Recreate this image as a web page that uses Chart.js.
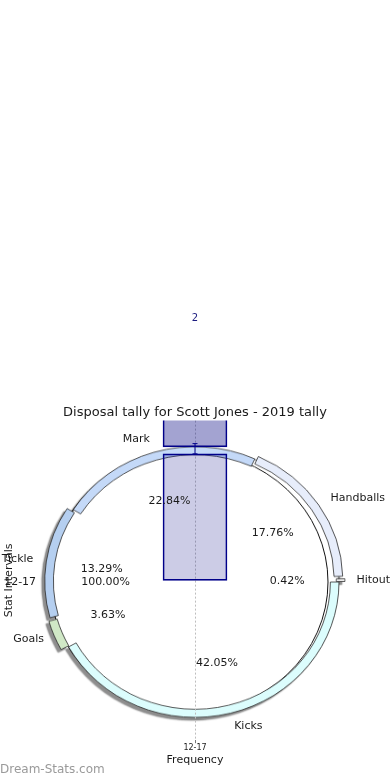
<!DOCTYPE html>
<html lang="en">
<head>
  <meta charset="UTF-8" />
  <title>Disposal tally for Scott Jones</title>
  <script src="https://cdn.jsdelivr.net/npm/chart.js"></script>
  <style>
    body {
      margin: 0;
      width: 390px;
      height: 780px;
      overflow: hidden;
      position: relative;
      background: #fff;
      font-family: 'DejaVu Sans', sans-serif;
    }
    canvas { position: absolute; left: 0; top: 0; }
    .pie { transform-origin: 50% 50%; }
    .watermark {
      position: absolute;
      left: 0;
      top: 762px;
      font-size: 12px;
      line-height: 14px;
      color: #9a9a9a;
    }
  </style>
</head>
<body>
  <canvas id="totalPie" class="pie" width="390" height="390"></canvas>
  <canvas id="pieChart" class="pie" width="390" height="390"></canvas>
  <canvas id="barChart" width="390" height="780"></canvas>
  <div class="watermark">Dream-Stats.com</div>

  <script>
// pie data, in drawing order (clockwise from 3 o'clock)
const pieLabels = ['Kicks', 'Goals', 'Tickle', 'Mark', 'Handballs', 'Hitout'];
const piePercents = [42.05, 3.63, 13.29, 22.84, 17.76, 0.42];
const pieColors = ['#dcfdfd', '#d0e8c6', '#b5cff0', '#c4d9f8', '#e7edfb', '#efefef'];

// the single 100% wedge of the second pie
const totalLabels = ['12-17'];
const totalValues = [100];

// bar part: a low bar and a high bar split by the error interval
const barCategories = ['12-17'];
const lowBarFrom = [0];
const lowBarTo = [0.99];
const highBarFrom = [1.045];
const highBarTo = [2];
const errLow = [0.99];
const errHigh = [1.07];

// both pie canvases are centred on y=582 and squashed a little like the original axes
const PIE_TOP = 387, PIE_SIZE = 390, PIE_SY = 0.94;
document.querySelectorAll('.pie').forEach(c => {
  c.style.top = PIE_TOP + 'px';
  c.style.transform = 'scaleY(' + PIE_SY + ')';
});

Chart.defaults.font.family = "'DejaVu Sans', sans-serif";
Chart.defaults.color = '#1a1a1a';

// shadow under the ring, drawn as its own pass so it stays below every wedge
const ringShadow = {
  id: 'ringShadow',
  beforeDatasetsDraw(chart) {
    const meta = chart.getDatasetMeta(0);
    const el0 = meta.data[0];
    const ctx = chart.ctx;
    ctx.save();
    // only the outer side casts a visible shadow
    ctx.beginPath();
    ctx.rect(0, 0, chart.width, chart.height);
    ctx.arc(el0.x, el0.y, el0.outerRadius - 1, 0, Math.PI * 2);
    ctx.clip('evenodd');
    ctx.translate(-2000, 0);
    ctx.shadowColor = 'rgba(0,0,0,0.45)';
    ctx.shadowOffsetX = 2000 - 3;
    ctx.shadowOffsetY = 3;
    ctx.shadowBlur = 1.5;
    meta.data.forEach(el => el.draw(ctx));
    ctx.restore();
  }
};

// outline of the 100% wedge, without the radial seam chart.js would add
const fullOutline = {
  id: 'fullOutline',
  afterDatasetsDraw(chart) {
    const el = chart.getDatasetMeta(0).data[0];
    const ctx = chart.ctx;
    ctx.save();
    ctx.beginPath();
    ctx.arc(el.x, el.y, el.outerRadius, 0, Math.PI * 2);
    ctx.strokeStyle = '#111';
    ctx.lineWidth = 1;
    ctx.stroke();
    ctx.restore();
  }
};

const pieOptions = {
  responsive: false,
  animation: false,
  events: [],
  rotation: 90,
  plugins: { legend: { display: false }, tooltip: { enabled: false } }
};

const totalPie = new Chart(document.getElementById('totalPie'), {
  type: 'pie',
  data: {
    labels: totalLabels,
    datasets: [{ data: totalValues, backgroundColor: 'rgba(0,0,0,0)', borderWidth: 0 }]
  },
  options: Object.assign({}, pieOptions, { radius: 139, layout: { padding: { right: 12 } } }),
  plugins: [fullOutline]
});

const pieChart = new Chart(document.getElementById('pieChart'), {
  type: 'doughnut',
  data: {
    labels: pieLabels,
    datasets: [{
      data: piePercents,
      backgroundColor: pieColors,
      borderColor: '#2b2b2b',
      borderWidth: 0.8,
      offset: [0, 18, 20, 0, 16, 12]
    }]
  },
  options: Object.assign({}, pieOptions, { radius: 144, cutout: '94%' }),
  plugins: [ringShadow]
});

function pieToScreenY(y) {
  return PIE_TOP + PIE_SIZE / 2 + (y - PIE_SIZE / 2) * PIE_SY;
}

// label + percentage for every wedge, placed from the wedge geometry
function drawPieTexts(ctx, chart, labels, values, labelDist, pctDist) {
  chart.getDatasetMeta(0).data.forEach((el, i) => {
    const mid = (el.startAngle + el.endAngle) / 2;
    const shift = (el.options.offset || 0) / 4;
    const c = Math.cos(mid), s = Math.sin(mid);
    const r = el.outerRadius;
    const lr = labelDist * r + shift;
    ctx.textAlign = c > 0 ? 'left' : 'right';
    ctx.fillText(labels[i], el.x + c * lr, pieToScreenY(el.y + s * lr));
    const pr = pctDist * r + shift;
    ctx.textAlign = 'center';
    ctx.fillText(values[i].toFixed(2) + '%', el.x + c * pr, pieToScreenY(el.y + s * pr));
  });
}

// error bar, total label, and the pie texts (kept crisp on the unscaled canvas)
const barExtras = {
  id: 'barExtras',
  afterDatasetsDraw(chart) {
    const ctx = chart.ctx;
    const xs = chart.scales.x, ys = chart.scales.y;
    ctx.save();
    barCategories.forEach((c, i) => {
      const x = xs.getPixelForValue(i);
      const yTop = ys.getPixelForValue(errHigh[i]);
      const yBot = ys.getPixelForValue(errLow[i]);
      ctx.strokeStyle = '#00008b';
      ctx.lineWidth = 1;
      ctx.beginPath();
      ctx.moveTo(x, yTop); ctx.lineTo(x, yBot);
      ctx.moveTo(x - 2.5, yTop); ctx.lineTo(x + 2.5, yTop);
      ctx.moveTo(x - 2.5, yBot); ctx.lineTo(x + 2.5, yBot);
      ctx.stroke();

      ctx.fillStyle = '#1c1c80';
      ctx.font = "10px 'DejaVu Sans'";
      ctx.textAlign = 'center';
      ctx.textBaseline = 'bottom';
      ctx.fillText(String(highBarTo[i]), x, ys.getPixelForValue(highBarTo[i]) - 1);
    });

    ctx.font = "11px 'DejaVu Sans'";
    ctx.fillStyle = '#1a1a1a';
    ctx.textBaseline = 'middle';
    drawPieTexts(ctx, pieChart, pieLabels, piePercents, 1.1, 0.62);
    drawPieTexts(ctx, totalPie, totalLabels, totalValues, 1.1, 0.6);
    ctx.restore();
  }
};

const axisTitle = { display: true, text: 'Stat Intervals', font: { size: 11 }, padding: { top: 0, bottom: 4 } };

new Chart(document.getElementById('barChart'), {
  type: 'bar',
  data: {
    labels: barCategories,
    datasets: [
      {
        data: lowBarFrom.map((v, i) => [v, lowBarTo[i]]),
        backgroundColor: 'rgba(0,0,128,0.2)',
        borderColor: '#00008b',
        borderWidth: 1,
        borderSkipped: false,
        barThickness: 64,
        grouped: false
      },
      {
        data: highBarFrom.map((v, i) => [v, highBarTo[i]]),
        backgroundColor: 'rgba(0,0,128,0.36)',
        borderColor: '#00008b',
        borderWidth: 1,
        borderSkipped: false,
        barThickness: 64,
        grouped: false
      }
    ]
  },
  options: {
    responsive: false,
    animation: false,
    events: [],
    layout: { padding: { top: 405, bottom: 13, left: 3, right: 3 } },
    plugins: {
      legend: { display: false },
      tooltip: { enabled: false },
      title: {
        display: true,
        text: 'Disposal tally for Scott Jones - 2019 tally',
        font: { size: 13, weight: 'normal' },
        color: '#1a1a1a',
        padding: { top: 0, bottom: 0 }
      }
    },
    scales: {
      x: {
        grid: { offset: false, color: '#bdbdbd', tickLength: 3, tickColor: '#777' },
        border: { display: false, dash: [2, 2] },
        ticks: { font: { size: 8 }, color: '#1a1a1a', padding: 0 },
        title: { display: true, text: 'Frequency', font: { size: 11 }, color: '#1a1a1a', padding: { top: 1, bottom: 0 } }
      },
      y: {
        min: -1.25,
        max: 1.25,
        grid: { display: false },
        border: { display: false },
        ticks: { display: false },
        title: Object.assign({ color: '#1a1a1a' }, axisTitle)
      },
      // empty mirror axis so the plot stays centred on the page
      yPad: {
        position: 'right',
        display: true,
        min: -1.25,
        max: 1.25,
        grid: { display: false },
        border: { display: false },
        ticks: { display: false },
        title: Object.assign({ color: 'rgba(0,0,0,0)' }, axisTitle)
      }
    }
  },
  plugins: [barExtras]
});
  </script>
</body>
</html>
